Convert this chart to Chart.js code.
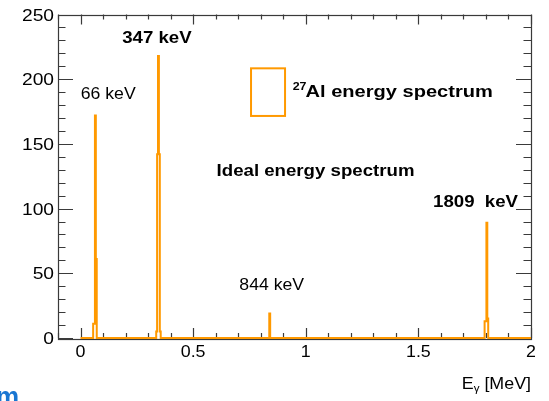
<!DOCTYPE html>
<html>
<head>
<meta charset="utf-8">
<title>27Al energy spectrum</title>
<script src="https://cdn.jsdelivr.net/npm/chart.js@4.4.1/dist/chart.umd.min.js"></script>
<style>
  html, body { margin: 0; padding: 0; background: #fff; overflow: hidden; }
  canvas { display: block; }
</style>
</head>
<body>
<canvas id="spectrum" width="549" height="401"></canvas>
<script>
// 27Al gamma spectrum, 4 keV bins, only non-empty bins listed
const binWidth = 0.004; // MeV
const peakStarts = [0.056, 0.336, 0.838, 1.794];
const peakCounts = [
    [11, 11, 172, 61],
    [5, 142, 218, 142, 5],
    [19],
    [13, 13, 89, 15]
];
const histRange = [0, 2];

const xTicks = [0, 0.5, 1, 1.5, 2];
const xTickLabels = ['0', '0.5', '1', '1.5', '2'];
const yTicks = [0, 50, 100, 150, 200, 250];
const yTickLabels = ['0', '50', '100', '150', '200', '250'];
const xRange = [-0.1, 2.0];
const yRange = [0, 250];

const ORANGE = '#ff9900';
const AXIS = '#3a3a3a';
const FONT = '"Liberation Sans", Arial, Helvetica, sans-serif';

// text in the pad: [text, x (MeV), y (counts), bold]
const peakNotes = [
    ['66 keV', 0.001, 184.5, false],
    ['347 keV', 0.185, 227.7, true],
    ['844 keV', 0.705, 37, false],
    ['1809  keV', 1.565, 101, true],
    ['Ideal energy spectrum', 0.604, 125.2, true]
];

// histogram as step outline
function buildSteps() {
    const pts = [{ x: histRange[0], y: 0 }];
    peakStarts.forEach((start, i) => {
        peakCounts[i].forEach((c, j) => pts.push({ x: start + j * binWidth, y: c }));
        pts.push({ x: start + peakCounts[i].length * binWidth, y: 0 });
    });
    pts.push({ x: histRange[1], y: 0 });
    return pts;
}

function drawText(ctx, text, x, y, font, align, sx) {
    ctx.save();
    ctx.font = font;
    ctx.textAlign = align || 'left';
    ctx.textBaseline = 'alphabetic';
    ctx.fillStyle = '#000';
    ctx.translate(x, y);
    ctx.scale(sx || 1, 1);
    ctx.fillText(text, 0, 0);
    ctx.restore();
}

// ROOT-like frame with inward ticks on all four sides
const framePlugin = {
    id: 'rootFrame',
    beforeDatasetsDraw(chart) {
        const { ctx, chartArea: a, scales } = chart;
        const xs = scales.x, ys = scales.y;
        ctx.save();
        ctx.strokeStyle = AXIS;
        ctx.lineWidth = 1.2;
        ctx.strokeRect(Math.round(a.left) + 0.5, Math.round(a.top) + 0.5,
            Math.round(a.right - a.left), Math.round(a.bottom - a.top));

        ctx.beginPath();
        // x minor every 0.1, major every 0.5
        for (let i = -1; i <= 20; i++) {
            const v = i / 10;
            const px = Math.round(xs.getPixelForValue(v)) + 0.5;
            const len = (i % 5 === 0) ? 10 : 5;
            ctx.moveTo(px, a.bottom); ctx.lineTo(px, a.bottom - len);
            ctx.moveTo(px, a.top); ctx.lineTo(px, a.top + len);
        }
        // y minor every 10, major every 50
        for (let v = 0; v <= 250; v += 10) {
            const py = Math.round(ys.getPixelForValue(v)) + 0.5;
            const len = (v % 50 === 0) ? 15 : 7.5;
            ctx.moveTo(a.left, py); ctx.lineTo(a.left + len, py);
            ctx.moveTo(a.right, py); ctx.lineTo(a.right - len, py);
        }
        ctx.stroke();
        ctx.restore();
    },
    afterDatasetsDraw(chart) {
        const { ctx, chartArea: a, scales } = chart;
        const xs = scales.x, ys = scales.y;

        // tick labels
        xTicks.forEach((v, i) => {
            drawText(ctx, xTickLabels[i], xs.getPixelForValue(v), 357,
                '17px ' + FONT, 'center', 1.05);
        });
        yTicks.forEach((v, i) => {
            drawText(ctx, yTickLabels[i], 54, ys.getPixelForValue(v) + 6,
                '16px ' + FONT, 'right', 1.2);
        });

        // axis title E_gamma [MeV]
        ctx.save();
        ctx.font = '17px ' + FONT;
        const wBr = ctx.measureText(' [MeV]').width * 1.05;
        ctx.font = '11px ' + FONT;
        const wG = ctx.measureText('\u03b3').width * 1.05;
        ctx.font = '17px ' + FONT;
        const wE = ctx.measureText('E').width * 1.05;
        ctx.restore();
        const right = a.right;
        drawText(ctx, ' [MeV]', right - wBr, 389, '17px ' + FONT, 'left', 1.05);
        drawText(ctx, '\u03b3', right - wBr - wG, 392, '11px ' + FONT, 'left', 1.05);
        drawText(ctx, 'E', right - wBr - wG - wE, 389, '17px ' + FONT, 'left', 1.05);

        // peak annotations
        peakNotes.forEach(([t, x, y, bold]) => {
            drawText(ctx, t, xs.getPixelForValue(x), ys.getPixelForValue(y),
                (bold ? 'bold ' : '') + '16.5px ' + FONT, 'left', bold ? 1.13 : 1.07);
        });

        // legend entry
        const lx0 = xs.getPixelForValue(0.757), lx1 = xs.getPixelForValue(0.908);
        const ly0 = ys.getPixelForValue(208.4), ly1 = ys.getPixelForValue(171.6);
        ctx.save();
        ctx.strokeStyle = ORANGE;
        ctx.lineWidth = 2;
        ctx.strokeRect(lx0, ly0, lx1 - lx0, ly1 - ly0);
        ctx.restore();
        drawText(ctx, '27', xs.getPixelForValue(0.942), ys.getPixelForValue(192),
            'bold 11px ' + FONT, 'left', 1.13);
        drawText(ctx, 'Al energy spectrum', xs.getPixelForValue(0.999), ys.getPixelForValue(186.5),
            'bold 17px ' + FONT, 'left', 1.18);

        // clipped logo text in the corner
        ctx.save();
        ctx.fillStyle = '#1976d2';
        ctx.font = 'bold 26px ' + FONT;
        ctx.fillText('m', -4, 405);
        ctx.restore();
    }
};

new Chart(document.getElementById('spectrum'), {
    type: 'line',
    data: {
        datasets: [{
            label: '27Al energy spectrum',
            data: buildSteps(),
            stepped: 'before',
            borderColor: ORANGE,
            borderWidth: 2,
            pointRadius: 0,
            fill: false,
            clip: 4
        }]
    },
    options: {
        responsive: false,
        animation: false,
        layout: { padding: { left: 58, right: 18, top: 14.5, bottom: 63 } },
        plugins: { legend: { display: false }, tooltip: { enabled: false } },
        scales: {
            x: { type: 'linear', min: xRange[0], max: xRange[1], display: false },
            y: { type: 'linear', min: yRange[0], max: yRange[1], display: false }
        }
    },
    plugins: [framePlugin]
});
</script>
</body>
</html>
